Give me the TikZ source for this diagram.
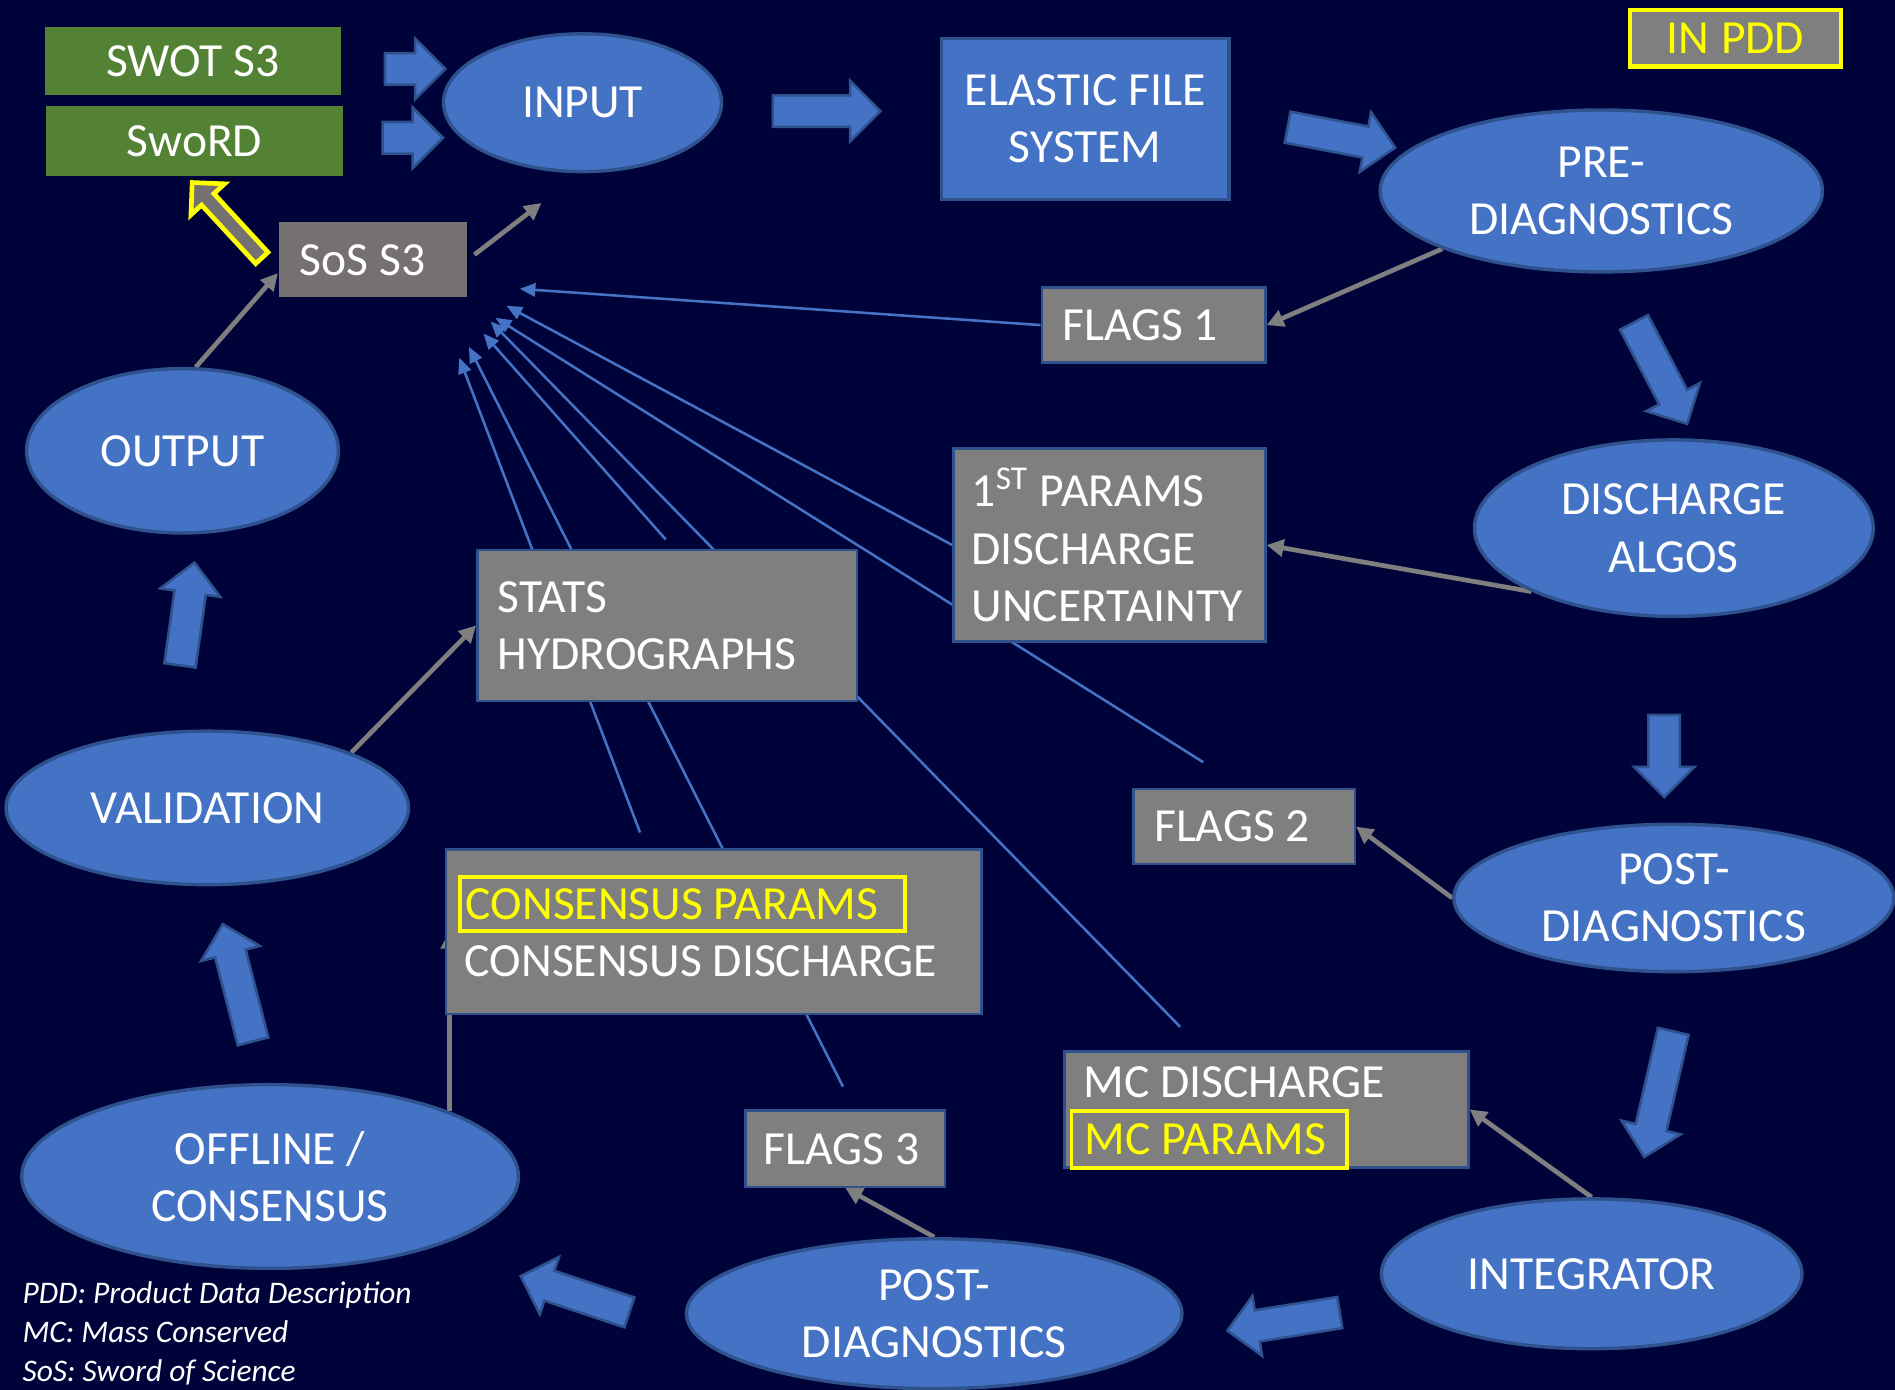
\documentclass[tikz,border=0pt]{standalone}
\usepackage{fontspec}
\setmainfont{Carlito}
\usetikzlibrary{positioning, shapes.geometric, shapes.arrows, arrows.meta, calc}

\definecolor{navy}{HTML}{00033A}
\definecolor{nodeblue}{HTML}{4472C4}
\definecolor{edgeblue}{HTML}{2F528F}
\definecolor{boxgray}{HTML}{7F7F7F}
\definecolor{sosgray}{HTML}{767171}
\definecolor{srcgreen}{HTML}{548235}
\definecolor{pddyellow}{HTML}{FFFF00}

\newcommand{\labelsize}{\fontsize{11.2}{13.5}\selectfont}

\pgfdeclarelayer{bg}
\pgfdeclarelayer{links}
\pgfsetlayers{bg,links,main}

\tikzset{
  every node/.style={font=\labelsize, text=white},
  oval/.style={ellipse, draw=edgeblue, fill=nodeblue, line width=0.8pt, inner sep=0pt, align=center},
  bluebox/.style={rectangle, draw=edgeblue, fill=nodeblue, line width=0.8pt, inner sep=0pt, align=center},
  srcbox/.style={rectangle, fill=srcgreen, inner sep=0pt, minimum width=2.46cm, minimum height=0.58cm},
  greybox/.style={rectangle, draw=edgeblue, fill=boxgray, line width=0.6pt, inner xsep=0.17cm, inner ysep=0pt, align=left,
    execute at begin node={\spaceskip=0pt\relax}},
  pddbox/.style={rectangle, draw=pddyellow, line width=0.9pt, inner xsep=0.05cm, inner ysep=0pt, align=left, text=pddyellow,
    execute at begin node={\spaceskip=0pt\relax}},
  fatarrow/.style={single arrow, draw=edgeblue, fill=nodeblue, line width=0.6pt, inner xsep=0pt, inner ysep=#1,
    single arrow head extend=0.12cm, sloped, allow upside down},
  fatarrow/.default=0.12cm,
  greyarrow/.style={draw=boxgray, line width=1.1pt, -{Triangle[length=0.14cm, width=0.14cm]}},
  bluelink/.style={draw=nodeblue, line width=0.6pt, -{Triangle[length=0.13cm, width=0.11cm]}}
}

\begin{document}
\begin{tikzpicture}
\useasboundingbox (0,0) rectangle (15.68,-11.5);
\begin{pgfonlayer}{bg}
\fill[navy] (0,0) rectangle (15.68,-11.5);
\end{pgfonlayer}

\node[srcbox, minimum width=2.45cm, minimum height=0.57cm] (swot) at (1.595,-0.505) {SWOT S3};
\node[srcbox] (sword) at (1.61,-1.17) {SwoRD};
\node[oval, minimum width=2.3cm, minimum height=1.14cm] (input) at (4.82,-0.85) {INPUT};
\node[bluebox, minimum width=2.38cm, minimum height=1.33cm] (efs) at (8.98,-0.985) {ELASTIC FILE\\SYSTEM};
\node[oval, minimum width=3.66cm, minimum height=1.34cm] (pre) at (13.25,-1.58) {PRE-\\DIAGNOSTICS};
\node[greybox, draw=pddyellow, line width=1pt, align=center, text=pddyellow, text width=1.40cm, minimum height=0.47cm] (inpdd) at (14.36,-0.315) {IN PDD};

\node[greybox, text width=1.51cm, minimum height=0.62cm] (flagsone) at (9.545,-2.69) {FLAGS 1};
\node[greybox, inner xsep=0.15cm, text width=2.28cm, minimum height=1.60cm] (params) at (9.18,-4.51) {1\textsuperscript{ST} PARAMS\\DISCHARGE\\UNCERTAINTY};
\node[oval, minimum width=3.30cm, minimum height=1.46cm] (discharge) at (13.85,-4.37) {DISCHARGE\\ALGOS};
\node[greybox, text width=1.49cm, minimum height=0.62cm] (flagstwo) at (10.295,-6.84) {FLAGS 2};
\node[oval, minimum width=3.64cm, minimum height=1.22cm] (postr) at (13.85,-7.43) {POST-\\DIAGNOSTICS};
\node[oval, minimum width=3.48cm, minimum height=1.24cm] (integrator) at (13.17,-10.54) {INTEGRATOR};
\node[greybox, minimum width=3.34cm, minimum height=0.96cm] (mc) at (10.48,-9.18) {};
\node[inner sep=0pt, below right=0.13cm and 0.16cm of mc.north west] (mcdis) {MC DISCHARGE};
\node[pddbox, inner xsep=0.11cm, text width=2.06cm, minimum height=0.47cm, below right=0.49cm and 0.05cm of mc.north west] (mcparams) {MC PARAMS};

\node[oval, minimum width=4.10cm, minimum height=1.24cm] (postb) at (7.73,-10.87) {POST-\\DIAGNOSTICS};
\node[greybox, inner xsep=0.15cm, text width=1.35cm, minimum height=0.63cm] (flagsthree) at (6.995,-9.505) {FLAGS 3};
\node[oval, minimum width=4.11cm, minimum height=1.52cm] (offline) at (2.235,-9.735) {OFFLINE /\\CONSENSUS};
\node[greybox, minimum width=4.43cm, minimum height=1.36cm] (cons) at (5.905,-7.71) {};
\node[pddbox, text width=3.58cm, minimum height=0.45cm, below right=0.22cm and 0.11cm of cons.north west] (consparams) {CONSENSUS PARAMS};
\node[inner sep=0pt, below right=0.80cm and 0.16cm of cons.north west] (consdis) {CONSENSUS DISCHARGE};
\node[oval, minimum width=3.33cm, minimum height=1.27cm] (validation) at (1.715,-6.685) {VALIDATION};
\node[greybox, text width=2.80cm, minimum height=1.25cm] (stats) at (5.52,-5.175) {STATS\\HYDROGRAPHS};
\node[oval, minimum width=2.58cm, minimum height=1.36cm] (output) at (1.51,-3.73) {OUTPUT};
\node[greybox, draw=none, fill=sosgray, text width=1.21cm, minimum height=0.62cm] (sos) at (3.085,-2.15) {SoS S3};

\node[font=\fontsize{7.4}{9.1}\selectfont\itshape, align=left, anchor=north west, inner sep=0pt] (legend) at (0.18,-10.60)
  {PDD: Product Data Description\\MC: Mass Conserved\\SoS: Sword of Science};

\coordinate (tipa) at (4.30,-2.39);
\coordinate (tipb) at (4.19,-2.53);
\coordinate (tipc) at (4.10,-2.63);
\coordinate (tipd) at (4.06,-2.66);
\coordinate (tipe) at (4.00,-2.76);
\coordinate (tipf) at (3.88,-2.87);
\coordinate (tipg) at (3.80,-2.96);
\coordinate (sosout) at (4.48,-1.68);

\begin{pgfonlayer}{links}
\draw[bluelink] (flagsone.west) -- (tipa);
\draw[bluelink] (params.west) -- (tipb);
\draw[bluelink, shorten <=0.4cm] (flagstwo.north) -- (tipc);
\draw[bluelink, shorten <=0.27cm] (mc.137.6) -- (tipd);
\draw[bluelink, shorten <=0.1cm] (stats.85) -- (tipe);
\draw[bluelink, shorten <=0.21cm] (flagsthree.77.5) -- (tipf);
\draw[bluelink, shorten <=0.14cm] (cons.129) -- (tipg);

\draw[greyarrow] (output.81) -- (sos.188);
\draw[greyarrow, shorten <=0.07cm] (sos.east) -- (sosout);
\draw[greyarrow] (pre.200) -- (flagsone.east);
\draw[greyarrow] (discharge.204) -- (params.east);
\draw[greyarrow] (postr.west) -- (flagstwo.east);
\draw[greyarrow] (integrator.north) -- (mc.east);
\draw[greyarrow] (postb.north) -- (flagsthree.south);
\draw[greyarrow] (offline.20) -- (offline.20 |- cons.west);
\draw[greyarrow] (validation.21) -- (stats.west);
\end{pgfonlayer}

\foreach \xa/\ya/\xb/\yb in {3.12/-0.57/3.62/-0.57, 3.10/-1.14/3.60/-1.14, 6.33/-0.92/7.22/-0.92,
    10.59/-1.04/11.48/-1.21, 13.49/-2.61/13.93/-3.45, 13.77/-5.85/13.77/-6.53, 13.86/-8.47/13.62/-9.51,
    11.15/-10.85/10.22/-11.00, 5.27/-10.88/4.37/-10.58, 2.11/-8.68/1.86/-7.71, 1.48/-5.57/1.60/-4.72}
  \path let \p1=($(\xb,\yb)-(\xa,\ya)$), \n1={veclen(\x1,\y1)} in
    (\xa,\ya) -- node[fatarrow, minimum height=\n1] {} (\xb,\yb);

\path let \p1=($(1.614,-1.536)-(2.19,-2.16)$), \n1={veclen(\x1,\y1)} in
  (2.19,-2.16) -- node[fatarrow=0.05cm, draw=pddyellow, fill=sosgray, line width=1.1pt, minimum height=\n1] {} (1.614,-1.536);
\end{tikzpicture}
\end{document}
